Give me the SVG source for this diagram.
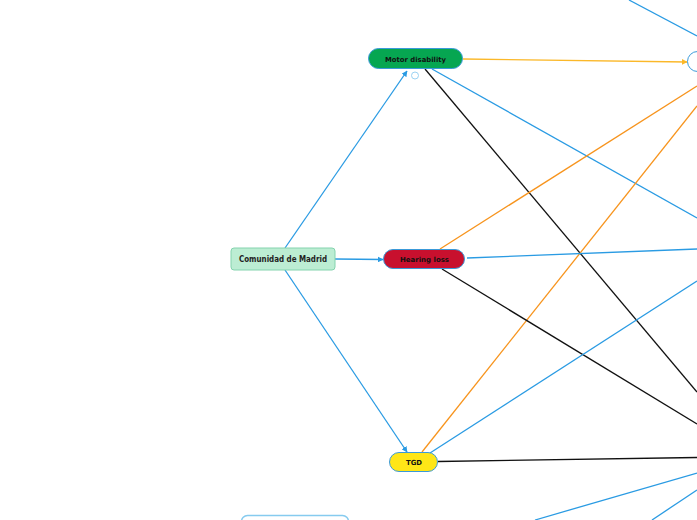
<svg xmlns="http://www.w3.org/2000/svg" width="697" height="520" viewBox="0 0 697 520">
<defs>
<style>
.c{fill:none;stroke-width:1.3}
.b{stroke:#2a9be3}
.o{stroke:#f7941d}
.y{stroke:#fbb829}
.k{stroke:#111}
.n{stroke:#3a9ad9;stroke-width:1}
.t{font-family:"DejaVu Sans","Liberation Sans",sans-serif;font-weight:bold;font-size:7px;fill:#111;text-anchor:middle}
</style>
<marker id="ab" viewBox="0 0 10 10" refX="9" refY="5" markerWidth="6" markerHeight="6" orient="auto" markerUnits="userSpaceOnUse"><path d="M0,0 L10,5 L0,10 z" fill="#2a9be3"/></marker>
<marker id="ay" viewBox="0 0 10 10" refX="9" refY="5" markerWidth="6" markerHeight="6" orient="auto" markerUnits="userSpaceOnUse"><path d="M0,0 L10,5 L0,10 z" fill="#fbb829"/></marker>
</defs>
<rect width="697" height="520" fill="#fff"/>
<g id="connectors">
<line class="c b" x1="285" y1="248" x2="407" y2="71" marker-end="url(#ab)"/>
<line class="c b" x1="335" y1="259" x2="383" y2="259.5" marker-end="url(#ab)"/>
<line class="c b" x1="285" y1="270" x2="407" y2="452" marker-end="url(#ab)"/>
<line class="c y" x1="463" y1="59" x2="687" y2="62" marker-end="url(#ay)"/>
<line class="c b" x1="629" y1="0" x2="697" y2="36"/>
<line class="c b" x1="432" y1="69" x2="697" y2="218"/>
<line class="c k" x1="425" y1="69" x2="697" y2="392"/>
<line class="c o" x1="440" y1="249" x2="697" y2="86"/>
<line class="c o" x1="422" y1="452" x2="697" y2="106"/>
<line class="c b" x1="467" y1="258" x2="697" y2="249"/>
<line class="c k" x1="442" y1="269" x2="697" y2="424"/>
<line class="c b" x1="430" y1="453" x2="697" y2="281"/>
<line class="c k" x1="438" y1="461.5" x2="697" y2="457.5"/>
<line class="c b" x1="535" y1="520" x2="697" y2="473"/>
<line class="c b" x1="652" y1="520" x2="697" y2="490"/>
</g>
<g id="madrid">
<rect x="231" y="248" width="104" height="22" rx="3" fill="#bcedd3" stroke="#84d3ae" stroke-width="1"/>
<text x="283" y="262" style="font-family:'DejaVu Sans Condensed','DejaVu Sans',sans-serif;font-weight:bold;font-size:8.5px;fill:#222;text-anchor:middle" textLength="88" lengthAdjust="spacingAndGlyphs">Comunidad de Madrid</text>
</g>
<g id="motor">
<rect x="368.5" y="48.5" width="94" height="20" rx="10" fill="#06a651" class="n"/>
<text x="415.5" y="61.5" class="t" textLength="61" lengthAdjust="spacingAndGlyphs">Motor disability</text>
<circle cx="415" cy="75.5" r="3.5" fill="#fff" stroke="#9ad2f2" stroke-width="1"/>
</g>
<g id="hearing">
<rect x="383.5" y="249.5" width="81" height="19" rx="9.5" fill="#c8102e" class="n"/>
<text x="424.5" y="262" class="t" textLength="49" lengthAdjust="spacingAndGlyphs">Hearing loss</text>
</g>
<g id="tgd">
<rect x="389.5" y="452.5" width="48" height="19" rx="9.5" fill="#ffe617" class="n"/>
<text x="414" y="465" class="t" textLength="16" lengthAdjust="spacingAndGlyphs">TGD</text>
</g>
<g id="right-node">
<rect x="687.5" y="51.5" width="40" height="20" rx="10" fill="#fff" class="n"/>
</g>
<g id="bottom-node">
<rect x="241.5" y="515.5" width="107" height="30" rx="6" fill="#fff" stroke="#86cbef" stroke-width="1.5"/>
</g>
</svg>
